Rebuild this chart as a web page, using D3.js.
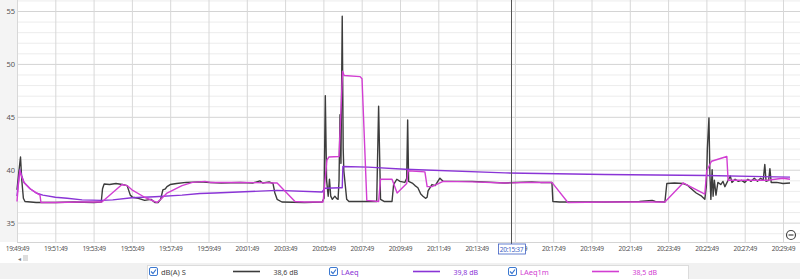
<!DOCTYPE html>
<html>
<head>
<meta charset="utf-8">
<script src="https://d3js.org/d3.v7.min.js"></script>
<style>
body { margin: 0; background: #fff; }
svg { display: block; font-family: "Noto Sans", "DejaVu Sans", sans-serif; }
.domain { display: none; }
</style>
</head>
<body>
<svg width="800" height="279"></svg>
<script>
// measurement start, tick labels, legend
var START = "19:49:49";
var xTickLabels = ["19:49:49","19:51:49","19:53:49","19:55:49","19:57:49","19:59:49","20:01:49",
  "20:03:49","20:05:49","20:07:49","20:09:49","20:11:49","20:13:49","20:15:49","20:17:49",
  "20:19:49","20:21:49","20:23:49","20:25:49","20:27:49","20:29:49"];
var yTickLabels = [35, 40, 45, 50, 55];
var yGridValues = [34,35,36,37,38,39,40,41,42,43,44,45,46,47,48,49,50,51,52,53,54,55,56];
var cursorTime = "20:15:37";
var seriesNames = ["dB(A) S", "LAeq", "LAeq1m"];
var seriesReadouts = ["38,6 dB", "39,8 dB", "38,5 dB"];
var seriesColors = ["#3c3c3c", "#8a34d6", "#d23ed2"];

// [seconds after START, dB]
var dbaS = [[0,38.1],[5,39.6],[11,41.2],[15,39.0],[20,37.3],[25,37.0],[60,36.9],[120,36.9],[180,36.95],
  [240,36.9],[264,36.95],[268,38.2],[273,38.65],[290,38.6],[310,38.7],[330,38.6],[345,38.5],[355,37.6],
  [362,37.4],[380,37.3],[400,37.1],[420,37.2],[432,36.9],[442,36.9],[450,37.2],[457,38.1],[465,38.2],
  [470,38.4],[480,38.6],[500,38.7],[530,38.8],[573,38.85],[605,38.8],[640,38.75],[700,38.8],[740,38.75],
  [761,38.95],[770,38.75],[790,38.85],[802,38.7],[808,37.8],[815,37.2],[830,36.95],[900,36.9],[956,36.95],
  [962,37.3],[966,47.0],[970,39.0],[975,37.5],[979,39.1],[983,37.5],[988,37.2],[996,37.5],[1001,37.3],
  [1006,37.2],[1009,39.0],[1012,45.2],[1015,40.6],[1019,54.5],[1022,42.0],[1024,39.9],[1033,37.2],
  [1040,37.0],[1080,37.0],[1127,37.0],[1133,46.0],[1139,37.2],[1150,37.0],[1175,37.0],[1180,38.6],
  [1190,39.1],[1200,38.9],[1215,38.8],[1221,39.2],[1224,44.7],[1227,38.9],[1240,38.7],[1247,38.5],
  [1256,38.3],[1265,37.7],[1272,37.5],[1280,37.3],[1285,37.4],[1288,38.0],[1300,38.6],[1310,38.5],
  [1325,39.2],[1335,38.9],[1350,38.9],[1426,38.9],[1529,38.75],[1560,38.8],[1613,38.85],[1640,38.8],
  [1676,38.8],[1679,37.0],[1700,36.95],[1842,36.95],[1950,37.0],[1990,37.1],[2000,37.0],[2030,36.95],
  [2036,38.7],[2060,38.75],[2087,38.7],[2100,38.55],[2109,38.3],[2128,37.8],[2145,37.5],[2155,37.2],
  [2160,38.5],[2163,42.0],[2168,44.9],[2171,39.5],[2174,37.2],[2178,40.0],[2181,37.5],[2185,39.0],
  [2190,37.6],[2196,38.8],[2205,38.6],[2212,38.9],[2218,38.4],[2228,39.0],[2235,39.4],[2240,38.8],
  [2250,39.1],[2260,38.9],[2270,39.0],[2280,38.8],[2290,39.1],[2300,38.9],[2310,39.2],[2320,38.9],
  [2330,39.2],[2338,39.0],[2343,40.5],[2347,38.9],[2355,39.0],[2359,40.1],[2363,38.8],[2380,38.8],
  [2400,38.7],[2422,38.75]];

var laeq = [[0,37.5],[5,39.0],[9,40.0],[15,39.4],[22,38.8],[41,38.2],[60,37.8],[81,37.6],[120,37.4],
  [157,37.3],[204,37.15],[266,37.1],[300,37.15],[360,37.35],[432,37.45],[517,37.6],[573,37.75],
  [620,37.8],[815,38.05],[956,37.9],[965,38.25],[1012,38.3],[1019,38.3],[1021,40.3],[1100,40.25],
  [1216,40.05],[1529,39.7],[1842,39.55],[2161,39.45],[2422,39.3]];

var laeq1m = [[0,37.0],[4,38.5],[9,39.9],[15,39.3],[22,38.8],[41,38.2],[56,37.9],[72,37.6],[75,36.9],
  [120,36.9],[200,36.95],[266,36.95],[329,38.6],[345,38.5],[360,38.1],[400,37.4],[439,36.9],[454,37.3],
  [470,37.8],[517,38.5],[550,38.8],[589,38.9],[605,38.8],[700,38.8],[815,38.75],[871,37.0],[900,36.95],
  [959,36.95],[971,40.9],[977,41.2],[1009,41.25],[1020,49.3],[1025,48.9],[1075,48.8],[1081,48.6],
  [1096,37.1],[1133,37.0],[1139,39.1],[1175,39.1],[1191,37.8],[1221,38.7],[1225,39.9],[1278,39.8],
  [1285,38.4],[1300,38.4],[1335,38.9],[1426,38.85],[1529,38.75],[1600,38.8],[1676,38.8],[1726,36.9],
  [1842,36.95],[2030,36.95],[2087,38.75],[2155,37.7],[2161,39.9],[2176,40.8],[2224,41.25],[2228,39.0],
  [2350,39.0],[2400,39.2],[2422,39.1]];

var parseT = d3.timeParse("%H:%M:%S");
var t0 = parseT(START);
var fmt = d3.timeFormat("%H:%M:%S");

var plotLeft = 17, plotRight = 800, plotTop = 0, plotBottom = 242;
var svg = d3.select("svg");

var x = d3.scaleTime()
  .domain([parseT(xTickLabels[0]), parseT(xTickLabels[xTickLabels.length - 1])])
  .range([17, 783]);
var y = d3.scaleLinear().domain([33.17, 56.04]).range([plotBottom, plotTop]);

// backgrounds
svg.append("rect").attr("x", 0).attr("y", 0).attr("width", plotLeft).attr("height", plotBottom).attr("fill", "#f4f4f4");
svg.append("rect").attr("x", 0).attr("y", 263).attr("width", 800).attr("height", 16).attr("fill", "#f1f1f1");

// horizontal grid (1 dB, darker every 5 dB)
svg.append("g")
  .attr("transform", "translate(" + plotLeft + ",0)")
  .call(d3.axisLeft(y).tickValues(yGridValues).tickSize(-(plotRight - plotLeft)).tickFormat(""))
  .call(function(g) {
    g.selectAll(".tick line").attr("stroke", function(d) { return d % 5 === 0 ? "#d4d4d4" : "#ececec"; });
  });

// y labels
svg.append("g")
  .attr("transform", "translate(" + plotLeft + ",0)")
  .call(d3.axisLeft(y).tickValues(yTickLabels).tickSize(0).tickPadding(2))
  .call(function(g) {
    g.selectAll("text").attr("fill", "#555").style("font-size", "7.5px").style("font-family", "Noto Sans");
  });

// vertical grid + x labels
svg.append("g")
  .attr("transform", "translate(0," + plotBottom + ")")
  .call(d3.axisBottom(x).tickValues(xTickLabels.map(parseT)).tickSize(-plotBottom).tickPadding(4).tickFormat(fmt))
  .call(function(g) {
    g.selectAll(".tick line").attr("stroke", "#d8d8d8");
    g.selectAll("text").attr("fill", "#555").style("font-size", "6.6px")
      .style("font-family", "Noto Sans").attr("letter-spacing", "-0.35");
  });

svg.append("line").attr("x1", plotLeft).attr("x2", plotRight).attr("y1", plotBottom + 0.5).attr("y2", plotBottom + 0.5)
  .attr("stroke", "#d4d4d4");

// series
var line = d3.line()
  .x(function(d) { return x(d3.timeSecond.offset(t0, d[0])); })
  .y(function(d) { return y(d[1]); });

[dbaS, laeq, laeq1m].forEach(function(s, i) {
  svg.append("path")
    .datum(s)
    .attr("d", line)
    .attr("fill", "none")
    .attr("stroke", seriesColors[i])
    .attr("stroke-width", 1.4)
    .attr("stroke-linejoin", "round");
});

// cursor
var cx = Math.round(x(parseT(cursorTime))) + 0.5;
svg.append("line").attr("x1", cx).attr("x2", cx).attr("y1", 0).attr("y2", 245)
  .attr("stroke", "#555").attr("stroke-width", 1);
svg.append("rect").attr("x", cx - 13).attr("y", 244).attr("width", 27).attr("height", 10)
  .attr("fill", "#fff").attr("stroke", "#3d5fc4").attr("stroke-width", 0.8);
svg.append("text").attr("x", cx).attr("y", 251.5).attr("text-anchor", "middle")
  .attr("fill", "#3d5fc4").style("font-size", "6.6px").attr("letter-spacing", "-0.35")
  .text(cursorTime);

// zoom-out button
svg.append("circle").attr("cx", 791).attr("cy", 235).attr("r", 4.5)
  .attr("fill", "#fff").attr("stroke", "#444").attr("stroke-width", 1.2);
svg.append("line").attr("x1", 788.5).attr("x2", 793.5).attr("y1", 235).attr("y2", 235)
  .attr("stroke", "#444").attr("stroke-width", 1.2);

// scroll widget
svg.append("text").attr("x", 18).attr("y", 261).attr("fill", "#777").style("font-size", "6px").text("◂");
svg.append("rect").attr("x", 23).attr("y", 255).attr("width", 5).attr("height", 6).attr("fill", "#ddd");

// legend
var legend = svg.append("g");
legend.append("rect").attr("x", 147.5).attr("y", 265.5).attr("width", 541).attr("height", 20)
  .attr("fill", "#fff").attr("stroke", "#dcdcdc");
var lx = [149, 329, 508];
seriesNames.forEach(function(name, i) {
  var g = legend.append("g").attr("transform", "translate(" + lx[i] + ",0)");
  g.append("rect").attr("x", 0.5).attr("y", 267.5).attr("width", 8).attr("height", 8).attr("rx", 1.5)
    .attr("fill", "#fff").attr("stroke", "#3b78d0").attr("stroke-width", 1);
  g.append("path").attr("d", "M2,271.5 L4,273.5 L7,269.5").attr("fill", "none")
    .attr("stroke", "#3b78d0").attr("stroke-width", 1.2);
  g.append("text").attr("x", 12).attr("y", 274.5)
    .attr("fill", i === 0 ? "#444" : seriesColors[i]).style("font-size", "7.5px").text(name);
  g.append("line").attr("x1", 84).attr("x2", 111).attr("y1", 271.5).attr("y2", 271.5)
    .attr("stroke", seriesColors[i]).attr("stroke-width", 1.6);
  g.append("text").attr("x", 149).attr("y", 274.5).attr("text-anchor", "end")
    .attr("fill", i === 0 ? "#444" : seriesColors[i]).style("font-size", "7px").text(seriesReadouts[i]);
});
</script>
</body>
</html>
